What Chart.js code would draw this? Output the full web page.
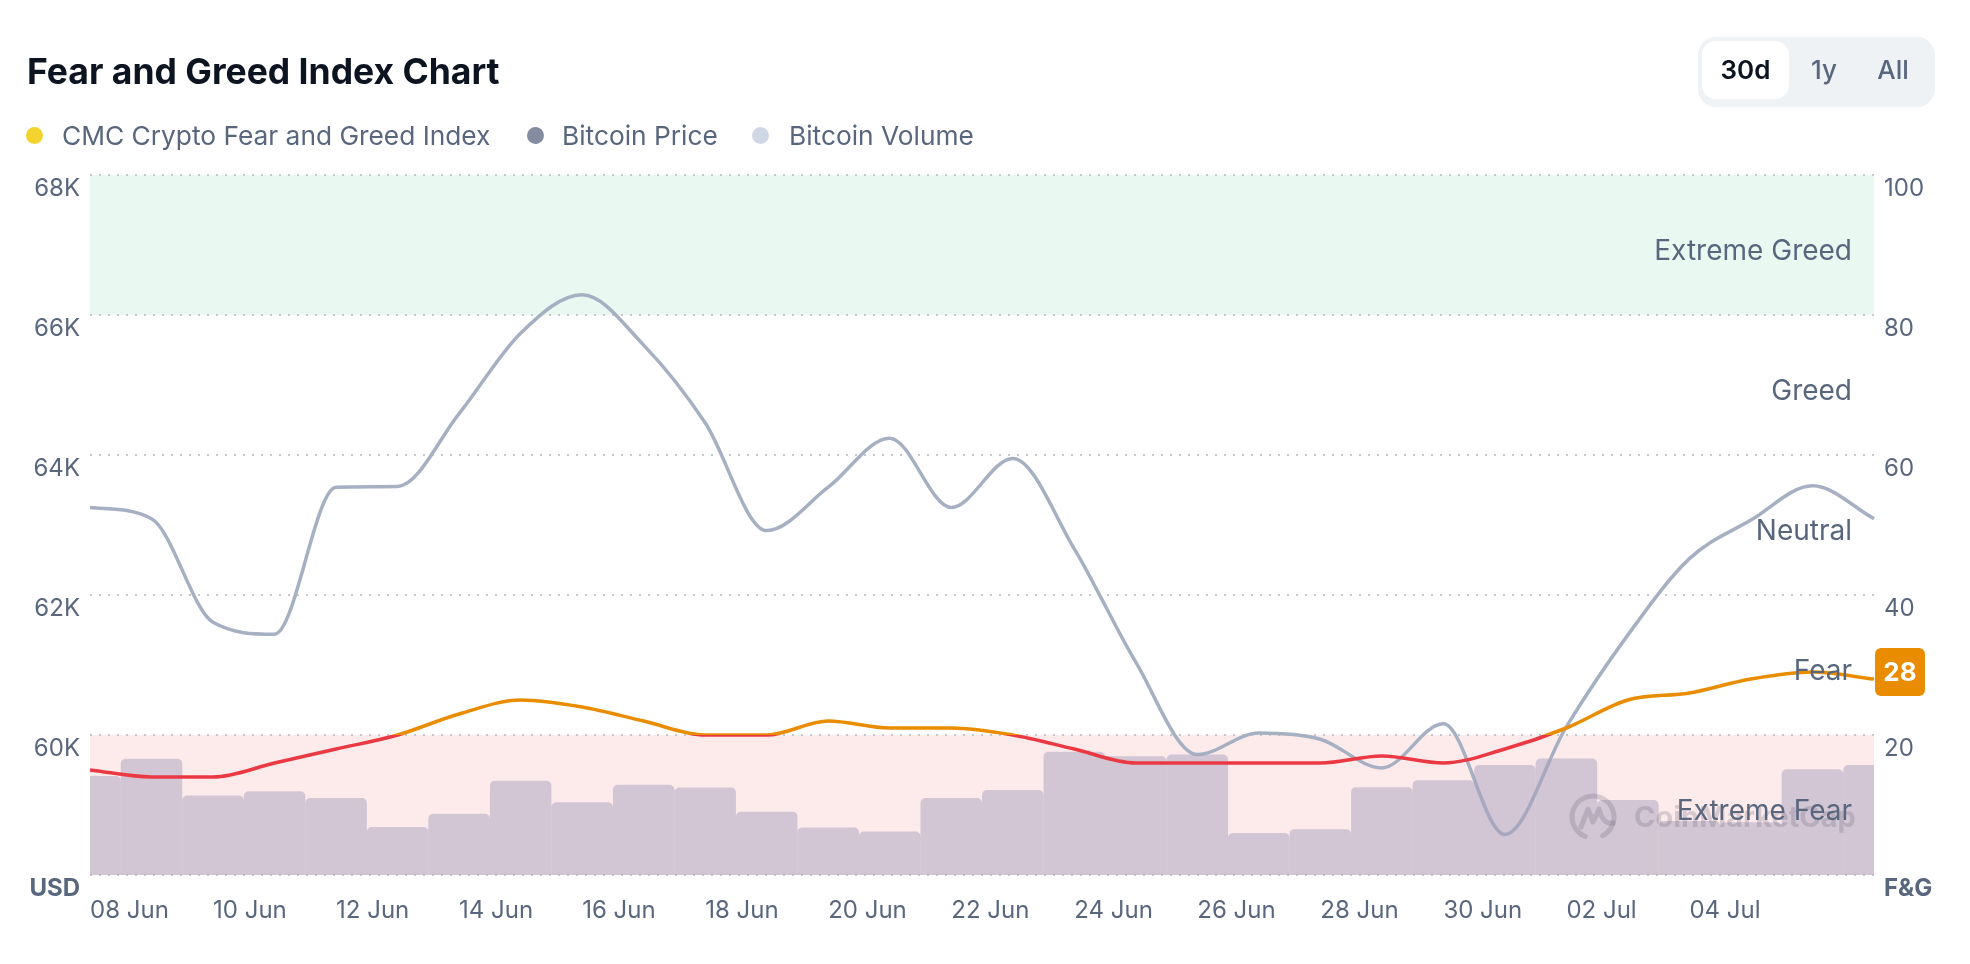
<!DOCTYPE html>
<html>
<head>
<meta charset="utf-8">
<title>Fear and Greed Index Chart</title>
<script src="https://cdn.jsdelivr.net/npm/chart.js@4.4.1/dist/chart.umd.min.js"></script>
<style>
  body { margin: 0; background: #fff; font-family: Inter, "Noto Sans", sans-serif; }
  .wrap { position: relative; width: 1970px; height: 964px; overflow: hidden; }
  #fgChart { position: absolute; left: 0; top: 0; }
  .title { position: absolute; left: 27px; top: 49px; font-size: 35.5px; font-weight: 700; color: #0D1421; line-height: 46px; white-space: nowrap; }
  .legend-dot { position: absolute; width: 17px; height: 17px; border-radius: 50%; top: 127px; }
  .legend-text { position: absolute; top: 118px; font-size: 26.3px; line-height: 36px; color: #58667E; white-space: nowrap; }
  .tabs { position: absolute; left: 1698px; top: 37px; width: 237px; height: 70px; border-radius: 18px; background: #EFF2F5; }
  .tab { position: absolute; top: 4px; height: 58px; line-height: 58px; text-align: center; font-size: 26px; font-weight: 500; color: #58667E; }
  .tab.active { background: #fff; border-radius: 14px; color: #0D1421; font-weight: 600; }
</style>
</head>
<body>
<div class="wrap">
  <canvas id="fgChart" width="1970" height="964"></canvas>
  <div class="title">Fear and Greed Index Chart</div>

  <span class="legend-dot" style="left:26px;background:#F3D42F"></span>
  <span class="legend-text" style="left:62px">CMC Crypto Fear and Greed Index</span>
  <span class="legend-dot" style="left:527px;background:#858CA2"></span>
  <span class="legend-text" style="left:562px">Bitcoin Price</span>
  <span class="legend-dot" style="left:752px;background:#CFD6E4"></span>
  <span class="legend-text" style="left:789px">Bitcoin Volume</span>

  <div class="tabs">
    <div class="tab active" style="left:4px;width:87px">30d</div>
    <div class="tab" style="left:91px;width:70px">1y</div>
    <div class="tab" style="left:161px;width:68px">All</div>
  </div>
</div>

<script>
const dates = ['08 Jun','09 Jun','10 Jun','11 Jun','12 Jun','13 Jun','14 Jun','15 Jun','16 Jun','17 Jun',
               '18 Jun','19 Jun','20 Jun','21 Jun','22 Jun','23 Jun','24 Jun','25 Jun','26 Jun','27 Jun',
               '28 Jun','29 Jun','30 Jun','01 Jul','02 Jul','03 Jul','04 Jul','05 Jul','06 Jul','07 Jul'];

// CMC fear & greed index (0-100)
const fgIndex = [15, 14, 14, 16, 18, 20, 23, 25, 24, 22,
                 20, 20, 22, 21, 21, 20, 18, 16, 16, 16,
                 16, 17, 16, 18, 21, 25, 26, 28, 29, 28];

// bitcoin price, USD
const btcPrice = [63250, 63090, 61610, 61440, 63540, 63550, 64590, 65740, 66290, 65570,
                  64460, 62920, 63540, 64240, 63250, 63950, 62660, 61040, 59720, 60030,
                  59940, 59530, 60160, 58580, 60120, 61430, 62520, 63070, 63560, 63090];

// bitcoin volume, billions USD
const btcVolume = [28.3, 33.2, 22.7, 23.9, 22.0, 13.7, 17.5, 26.9, 20.8, 25.8,
                   25.0, 18.1, 13.6, 12.4, 22.0, 24.3, 35.2, 33.9, 34.4, 12.0,
                   13.1, 25.1, 27.1, 31.4, 33.3, 21.4, 15.4, 15.1, 30.2, 31.4];

const zoneBands = [
    { from: 80, to: 100, color: '#E9F8F1' },
    { from: 0, to: 20, color: '#FDEBEC' }
];
const zoneLabels = [
    { value: 90, text: 'Extreme Greed' },
    { value: 70, text: 'Greed' },
    { value: 50, text: 'Neutral' },
    { value: 30, text: 'Fear' },
    { value: 10, text: 'Extreme Fear' }
];
const zoneColors = ['#EA3943', '#EA8C00', '#F3D42F', '#93D900', '#16C784'];

const TXT = '#58667E';

function fgGradient(context) {
    const chart = context.chart;
    if (!chart.chartArea || !chart.scales.yFG) return zoneColors[1];
    const y = chart.scales.yFG;
    const g = chart.ctx.createLinearGradient(0, y.getPixelForValue(0), 0, y.getPixelForValue(100));
    zoneColors.forEach((c, i) => {
        g.addColorStop(i * 0.2, c);
        g.addColorStop(i * 0.2 + 0.2, c);
    });
    return g;
}

function drawWatermark(ctx, a) {
    const cx = a.right - 281, cy = a.bottom - 58;
    ctx.save();
    ctx.strokeStyle = 'rgba(112,104,122,0.26)';
    ctx.fillStyle = 'rgba(112,104,122,0.26)';
    ctx.lineWidth = 5;
    ctx.lineCap = 'round';
    ctx.lineJoin = 'round';
    ctx.beginPath();
    ctx.arc(cx, cy, 21, Math.PI * 0.62, Math.PI * 2.35);
    ctx.stroke();
    ctx.beginPath();
    ctx.moveTo(cx - 12, cy + 10);
    ctx.lineTo(cx - 5, cy - 8);
    ctx.lineTo(cx, cy + 5);
    ctx.lineTo(cx + 6, cy - 8);
    ctx.quadraticCurveTo(cx + 10, cy + 8, cx + 20, cy + 6);
    ctx.stroke();
    ctx.font = '700 29px Inter';
    ctx.textBaseline = 'middle';
    ctx.textAlign = 'left';
    ctx.fillText('CoinMarketCap', a.right - 240, a.bottom - 57);
    ctx.restore();
}

const zonePlugin = {
    id: 'fgZones',
    beforeDraw(chart) {
        const { ctx, chartArea: a, scales: { yFG } } = chart;
        ctx.save();
        zoneBands.forEach(b => {
            const top = yFG.getPixelForValue(b.to), bottom = yFG.getPixelForValue(b.from);
            ctx.fillStyle = b.color;
            ctx.fillRect(a.left, top, a.width, bottom - top);
        });
        ctx.restore();
    },
    afterDatasetsDraw(chart) {
        const { ctx, chartArea: a, scales: { yFG } } = chart;
        drawWatermark(ctx, a);
        ctx.save();
        ctx.font = '400 28px Inter';
        ctx.fillStyle = TXT;
        ctx.textAlign = 'right';
        ctx.textBaseline = 'middle';
        zoneLabels.forEach(z => ctx.fillText(z.text, a.right - 22, yFG.getPixelForValue(z.value) + 7));
        ctx.restore();
    },
    afterDraw(chart) {
        const { ctx, chartArea: a, scales: { yFG } } = chart;
        const last = fgIndex[fgIndex.length - 1];
        const cy = yFG.getPixelForValue(last) - 7;
        const x = a.right + 1, w = 50, h = 48;
        ctx.save();
        ctx.fillStyle = '#EA8C00';
        ctx.beginPath();
        ctx.roundRect(x, cy - h / 2, w, h, 6);
        ctx.fill();
        ctx.fillStyle = '#fff';
        ctx.font = '700 26px Inter';
        ctx.textAlign = 'center';
        ctx.textBaseline = 'middle';
        ctx.fillText(String(last), x + w / 2, cy + 1);
        ctx.restore();
    }
};

const gridStyle = { color: '#C3C8D0', lineWidth: 2, drawTicks: false };

new Chart(document.getElementById('fgChart'), {
    data: {
        labels: dates,
        datasets: [
            {
                type: 'line', label: 'CMC Crypto Fear and Greed Index', data: fgIndex, yAxisID: 'yFG',
                borderColor: fgGradient, borderWidth: 3.5, pointRadius: 0, cubicInterpolationMode: 'monotone', order: 0
            },
            {
                type: 'bar', label: 'Bitcoin Volume', data: btcVolume, yAxisID: 'yVol',
                backgroundColor: 'rgba(168,160,188,0.5)', barPercentage: 1, categoryPercentage: 1, inflateAmount: 0,
                borderRadius: { topLeft: 5, topRight: 5, bottomLeft: 0, bottomRight: 0 }, order: 1
            },
            {
                type: 'line', label: 'Bitcoin Price', data: btcPrice, yAxisID: 'yPrice',
                borderColor: '#A6B0C3', borderWidth: 3.5, pointRadius: 0, cubicInterpolationMode: 'monotone', order: 2
            }
        ]
    },
    options: {
        responsive: false,
        animation: false,
        layout: { padding: { top: 175, left: 0, right: 0, bottom: 0 } },
        plugins: { legend: { display: false }, tooltip: { enabled: false } },
        scales: {
            x: {
                offset: false,
                grid: { display: false, drawTicks: false },
                border: { display: false },
                ticks: {
                    autoSkip: false, maxRotation: 0, minRotation: 0, align: 'start', padding: 21,
                    color: TXT, font: { family: 'Inter', size: 24 },
                    callback: function (val, i) { return (i % 2 === 0 && i < 28) ? this.getLabelForValue(val) : ''; }
                },
                afterFit: s => { s.height = 89; }
            },
            yPrice: {
                position: 'left', min: 58000, max: 68000,
                grid: gridStyle,
                border: { display: false, dash: [2, 7] },
                ticks: {
                    stepSize: 2000, padding: 10, labelOffset: 14, color: TXT,
                    font: c => ({ family: 'Inter', size: 24, weight: (c.tick && c.tick.value === 58000) ? '700' : '400' }),
                    callback: v => v === 58000 ? 'USD' : (v / 1000) + 'K'
                },
                afterFit: s => { s.width = 90; }
            },
            yFG: {
                position: 'right', min: 0, max: 100,
                grid: { display: false, drawTicks: false },
                border: { display: false },
                ticks: {
                    stepSize: 20, padding: 10, labelOffset: 14, color: TXT,
                    font: c => ({ family: 'Inter', size: 24, weight: (c.tick && c.tick.value === 0) ? '700' : '400' }),
                    callback: v => v === 0 ? 'F&G' : String(v)
                },
                afterFit: s => { s.width = 96; }
            },
            yVol: { display: false, min: 0, max: 200 }
        }
    },
    plugins: [zonePlugin]
});
</script>
</body>
</html>
